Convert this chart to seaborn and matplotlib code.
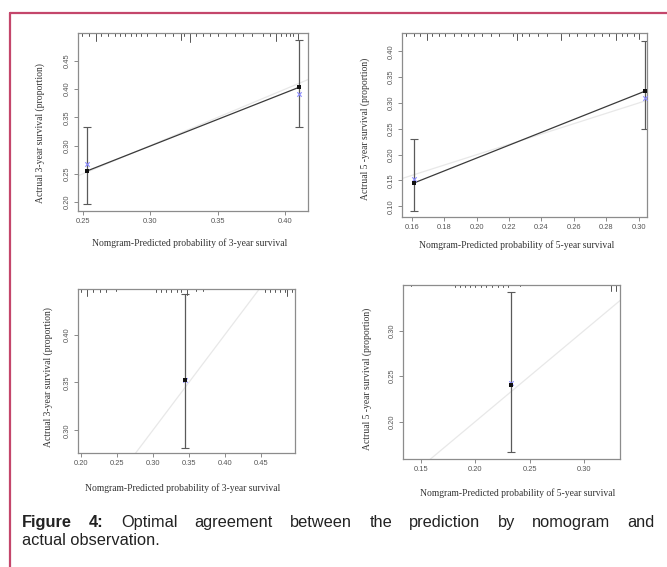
import matplotlib
matplotlib.use("Agg")
import matplotlib.pyplot as plt
from matplotlib.lines import Line2D
import matplotlib.transforms as mtransforms
import seaborn as sns
import pandas as pd
import numpy as np

# ---------------- data ----------------
# Panel 1: 3-year (training)
p1_pred = [0.253, 0.410]
p1_obs = [0.255, 0.403]
p1_corr = [0.267, 0.392]
p1_lo = [0.197, 0.333]
p1_hi = [0.333, 0.488]
p1_rug = [0.2495, 0.2545, 0.2599, 0.2636, 0.2686, 0.2735, 0.2772, 0.2814, 0.2854, 0.2896,
          0.2933, 0.2975, 0.3045, 0.3106, 0.3168, 0.3230, 0.3250, 0.3292, 0.3342, 0.3391,
          0.3446, 0.3502, 0.3564, 0.3626, 0.3688, 0.3757, 0.3837, 0.3891, 0.3931, 0.3973,
          0.4010, 0.4035, 0.4059, 0.4097]
p1_rug_len = [3, 3, 8, 3, 3, 3, 3, 3, 3, 3, 3, 3, 3, 3, 3, 7, 3, 9, 3, 3,
              3, 3, 3, 3, 3, 3, 3, 3, 8, 3, 3, 3, 3, 6]

# Panel 2: 5-year (training)
p2_pred = [0.161, 0.304]
p2_obs = [0.145, 0.323]
p2_corr = [0.152, 0.310]
p2_lo = [0.090, 0.249]
p2_hi = [0.231, 0.421]
p2_rug = [0.1565, 0.1610, 0.1652, 0.1693, 0.1724, 0.1765, 0.1806, 0.1858, 0.1903, 0.1944,
          0.1981, 0.2033, 0.2085, 0.2136, 0.2225, 0.2249, 0.2280, 0.2322, 0.2377, 0.2435,
          0.2518, 0.2569, 0.2621, 0.2672, 0.2724, 0.2775, 0.2816, 0.2858, 0.2899, 0.2930,
          0.2971, 0.3002]
p2_rug_len = [3, 3, 3, 7, 3, 3, 3, 3, 3, 3, 3, 3, 3, 3, 3, 7, 3, 3, 3, 3,
              7, 3, 3, 3, 3, 3, 3, 7, 3, 3, 3, 6]

# Panel 3: 3-year (validation)
p3_pred = [0.345]
p3_obs = [0.353]
p3_corr = [0.353]
p3_lo = [0.282]
p3_hi = [0.442]
p3_rug = [0.2009, 0.2088, 0.2171, 0.2264, 0.2347, 0.2495, 0.3051, 0.3120, 0.3190, 0.3259,
          0.3329, 0.3398, 0.3468, 0.3606, 0.3699, 0.4556, 0.4625, 0.4694, 0.4764, 0.4833,
          0.4866, 0.4926]
p3_rug_len = [3, 7, 3, 3, 3, 2, 3, 3, 3, 3, 3, 3, 6, 2, 2, 3, 3, 3, 3, 3, 7, 3]

# Panel 4: 5-year (validation)
p4_pred = [0.2334]
p4_obs = [0.2401]
p4_corr = [0.2426]
p4_lo = [0.1663]
p4_hi = [0.3429]
p4_rug = [0.1414, 0.1813, 0.1859, 0.1905, 0.1951, 0.2003, 0.2058, 0.2104, 0.2156, 0.2212,
          0.2258, 0.2304, 0.2411, 0.3248, 0.3294]
p4_rug_len = [1, 2, 2, 2, 2, 2, 2, 2, 2, 2, 2, 2, 1, 6, 6]

xlabel_3 = "Nomgram-Predicted probability of 3-year survival"
xlabel_5 = "Nomgram-Predicted probability of 5-year survival"
ylabel_3 = "Actrual 3-year survival (proportion)"
ylabel_5 = "Actrual 5 -year survival (proportion)"

caption_bold = ["Figure", "4:"]
caption_words = ["Optimal", "agreement", "between", "the", "prediction", "by", "nomogram", "and"]
caption_line2 = "actual observation."

# ---------------- figure ----------------
sns.set_theme(style="white")
plt.rcParams["font.family"] = ["Liberation Serif", "DejaVu Serif"]

W, H = 667, 567
fig = plt.figure(figsize=(W / 100, H / 100), dpi=100, facecolor="white")


def px_axes(l, r, t, b):
    return fig.add_axes([l / W, 1 - b / H, (r - l) / W, (b - t) / H])


panels = [
    dict(box=(78, 308, 33, 211), xlim=(0.2463, 0.417), ylim=(0.184, 0.4996),
         xt=[0.25, 0.30, 0.35, 0.40], yt=[0.20, 0.25, 0.30, 0.35, 0.40, 0.45],
         pred=p1_pred, obs=p1_obs, corr=p1_corr, lo=p1_lo, hi=p1_hi,
         rug=p1_rug, rlen=p1_rug_len, xl=xlabel_3, yl=ylabel_3,
         xlc=(0.487, -0.18), ylc=(-0.165, 0.438)),
    dict(box=(402, 647, 33, 217), xlim=(0.1538, 0.3052), ylim=(0.0793, 0.4356),
         xt=[0.16, 0.18, 0.20, 0.22, 0.24, 0.26, 0.28, 0.30],
         yt=[0.10, 0.15, 0.20, 0.25, 0.30, 0.35, 0.40],
         pred=p2_pred, obs=p2_obs, corr=p2_corr, lo=p2_lo, hi=p2_hi,
         rug=p2_rug, rlen=p2_rug_len, xl=xlabel_5, yl=ylabel_5,
         xlc=(0.469, -0.152), ylc=(-0.151, 0.478)),
    dict(box=(78, 295, 289, 453), xlim=(0.1963, 0.4972), ylim=(0.2763, 0.4477),
         xt=[0.20, 0.25, 0.30, 0.35, 0.40, 0.45], yt=[0.30, 0.35, 0.40],
         pred=p3_pred, obs=p3_obs, corr=p3_corr, lo=p3_lo, hi=p3_hi,
         rug=p3_rug, rlen=p3_rug_len, xl=xlabel_3, yl=ylabel_3,
         xlc=(0.484, -0.213), ylc=(-0.138, 0.463)),
    dict(box=(403, 620, 285, 459), xlim=(0.1337, 0.3331), ylim=(0.159, 0.3502),
         xt=[0.15, 0.20, 0.25, 0.30], yt=[0.20, 0.25, 0.30],
         pred=p4_pred, obs=p4_obs, corr=p4_corr, lo=p4_lo, hi=p4_hi,
         rug=p4_rug, rlen=p4_rug_len, xl=xlabel_5, yl=ylabel_5,
         xlc=(0.53, -0.195), ylc=(-0.167, 0.46)),
]

for p in panels:
    l, r, t, b = p["box"]
    ax = px_axes(l, r, t, b)
    ax.set_facecolor("white")
    hpx = b - t

    # ideal line y = x
    lo_v = min(p["xlim"][0], p["ylim"][0])
    hi_v = max(p["xlim"][1], p["ylim"][1])
    ideal = pd.DataFrame({"x": [lo_v, hi_v], "y": [lo_v, hi_v]})
    sns.lineplot(data=ideal, x="x", y="y", ax=ax, color="#e8e8e8", lw=0.9)

    df = pd.DataFrame({"pred": p["pred"], "obs": p["obs"], "corr": p["corr"],
                       "lo": p["lo"], "hi": p["hi"]})
    # calibration line
    if len(df) > 1:
        sns.lineplot(data=df, x="pred", y="obs", ax=ax, color="#3a3a3a", lw=0.9)
    # error bars
    ax.errorbar(df["pred"], df["obs"], yerr=[df["obs"] - df["lo"], df["hi"] - df["obs"]],
                fmt="none", ecolor="#5a5a5a", elinewidth=0.9, capsize=2.6, capthick=0.8)
    # bias-corrected points
    sns.scatterplot(data=df, x="pred", y="corr", ax=ax, marker="x", color="#8a8aff",
                    s=10, linewidth=0.8, zorder=5)
    # apparent points
    sns.scatterplot(data=df, x="pred", y="obs", ax=ax, marker="s", color="#111111",
                    s=6, linewidth=0, zorder=6)

    # rug of predicted probabilities at the top
    trans = mtransforms.blended_transform_factory(ax.transData, ax.transAxes)
    for xv, ln in zip(p["rug"], p["rlen"]):
        ax.plot([xv, xv], [1, 1 - ln / hpx], transform=trans, color="#555555",
                lw=0.7, clip_on=False)

    ax.set_xlim(*p["xlim"])
    ax.set_ylim(*p["ylim"])
    ax.set_xticks(p["xt"])
    ax.set_yticks(p["yt"])
    ax.set_xticklabels([f"{v:.2f}" for v in p["xt"]], family="Liberation Sans",
                       fontsize=5.4, color="#555555")
    ax.set_yticklabels([f"{v:.2f}" for v in p["yt"]], family="Liberation Sans",
                       fontsize=5.4, color="#555555", rotation=90, va="center")
    ax.tick_params(axis="both", which="both", direction="out", length=3, width=0.6,
                   color="#777777", pad=2, bottom=True, left=True)
    for s in ax.spines.values():
        s.set_visible(True)
        s.set_color("#8c8c8c")
        s.set_linewidth(0.9)

    ax.set_xlabel(p["xl"], fontsize=6.9, color="#333333")
    ax.set_ylabel(p["yl"], fontsize=6.9, color="#333333")
    ax.xaxis.set_label_coords(*p["xlc"])
    ax.yaxis.set_label_coords(*p["ylc"])
    ax.xaxis.label.set_va("center")
    ax.yaxis.label.set_va("center")

# ---------------- page border ----------------
border_col = "#c4466b"
fig.add_artist(Line2D([10 / W, 1], [1 - 13 / H, 1 - 13 / H], color=border_col, lw=1.6))
fig.add_artist(Line2D([10 / W, 10 / W], [0, 1 - 13 / H], color=border_col, lw=1.6))

# ---------------- caption (justified first line) ----------------
cap_size = 11.8
renderer = fig.canvas.get_renderer()
tokens = [(w, "bold") for w in caption_bold] + [(w, "normal") for w in caption_words]
texts = []
for w, wt in tokens:
    tx = fig.text(0, 1 - 527 / H, w, fontsize=cap_size, fontweight=wt,
                  family="Liberation Sans", color="#222222", va="baseline", ha="left")
    texts.append(tx)
widths = [tx.get_window_extent(renderer).width for tx in texts]
x0, x1 = 22, 655
gap = (x1 - x0 - sum(widths)) / (len(texts) - 1)
xc = x0
for tx, wd in zip(texts, widths):
    tx.set_x(xc / W)
    xc += wd + gap
fig.text(22 / W, 1 - 545 / H, caption_line2, fontsize=cap_size, family="Liberation Sans",
         color="#222222", va="baseline", ha="left")

fig.savefig("out.png", dpi=100, facecolor="white")
